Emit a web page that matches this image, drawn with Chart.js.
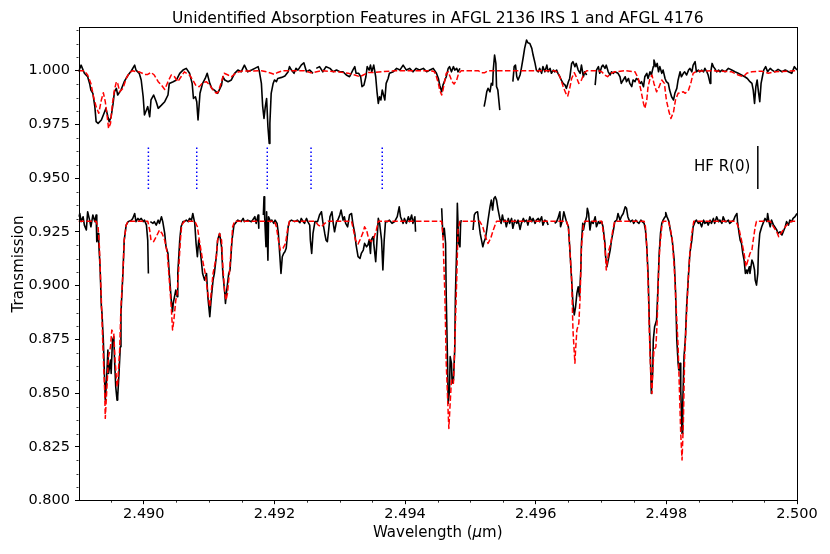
<!DOCTYPE html>
<html>
<head>
<meta charset="utf-8">
<title>Unidentified Absorption Features</title>
<script src="https://cdn.jsdelivr.net/npm/chart.js@4.4.1/dist/chart.umd.min.js"></script>
<style>
  html, body { margin: 0; padding: 0; background: #fff; }
  canvas { display: block; }
</style>
</head>
<body>
<canvas id="spec" width="830" height="554"></canvas>
<script>
/* ---- data (wavelength in um, transmission) ---- */

// AFGL 2136 IRS 1, observed (upper)
const upperObsWave = [
  2.48900,2.48904,2.48909,2.48914,2.48917,2.48919,2.48922,2.48925,2.48927,2.48930,
  2.48935,2.48940,2.48942,2.48945,2.48947,2.48950,2.48953,2.48955,2.48958,2.48960,
  2.48965,2.48970,2.48976,2.48981,2.48986,2.48988,2.48993,2.48996,2.48999,2.49001,
  2.49004,2.49006,2.49009,2.49011,2.49015,2.49019,2.49022,2.49027,2.49032,2.49037,
  2.49039,2.49045,2.49050,2.49055,2.49060,2.49065,2.49070,2.49074,2.49076,2.49079,
  2.49081,2.49083,2.49086,2.49090,2.49094,2.49097,2.49101,2.49104,2.49108,2.49113,
  2.49119,2.49121,2.49124,2.49129,2.49134,2.49139,2.49144,2.49149,2.49154,2.49159,
  2.49165,2.49170,2.49175,2.49177,2.49180,2.49182,2.49184,2.49186,2.49188,2.49190,
  2.49192,2.49193,2.49195,2.49198,2.49200,2.49203,2.49205,2.49211,2.49216,2.49221,
  2.49223,2.49226,2.49230,2.49233,2.49236,2.49241,2.49245,2.49249,2.49254,2.49259,
  2.49261,2.49264,2.49269,2.49274,2.49279,2.49285,2.49290,2.49295,2.49300,2.49305,
  2.49310,2.49315,2.49320,2.49323,2.49325,2.49329,2.49332,2.49334,2.49337,2.49340,
  2.49342,2.49345,2.49347,2.49349,2.49352,2.49355,2.49357,2.49359,2.49361,2.49363,
  2.49365,2.49367,2.49369,2.49371,2.49374,2.49376,2.49382,2.49387,2.49392,2.49397,
  2.49402,2.49407,2.49412,2.49417,2.49422,2.49428,2.49433,2.49438,2.49443,2.49448,
  2.49451,2.49453,2.49456,2.49458,2.49461,2.49463,2.49466,2.49468,2.49471,2.49474,
  2.49476,2.49479,2.49481,2.49484,2.49500,2.49521,2.49523,2.49525,2.49527,2.49530,
  2.49532,2.49534,2.49535,2.49537,2.49539,2.49540,2.49542,2.49545,2.49555,2.49565,
  2.49567,2.49569,2.49571,2.49573,2.49576,2.49578,2.49581,2.49583,2.49586,2.49588,
  2.49591,2.49594,2.49596,2.49599,2.49601,2.49604,2.49606,2.49609,2.49611,2.49614,
  2.49617,2.49619,2.49622,2.49624,2.49627,2.49629,2.49632,2.49634,2.49637,2.49639,
  2.49642,2.49645,2.49647,2.49650,2.49652,2.49655,2.49657,2.49660,2.49662,2.49665,
  2.49668,2.49670,2.49673,2.49675,2.49678,2.49685,2.49691,2.49693,2.49696,2.49698,
  2.49701,2.49703,2.49706,2.49708,2.49711,2.49714,2.49716,2.49719,2.49721,2.49726,
  2.49729,2.49731,2.49734,2.49737,2.49739,2.49742,2.49744,2.49747,2.49749,2.49752,
  2.49754,2.49757,2.49760,2.49762,2.49765,2.49767,2.49770,2.49772,2.49775,2.49777,
  2.49780,2.49781,2.49784,2.49786,2.49788,2.49790,2.49793,2.49795,2.49798,2.49800,
  2.49803,2.49805,2.49808,2.49811,2.49813,2.49816,2.49818,2.49821,2.49823,2.49826,
  2.49828,2.49831,2.49834,2.49836,2.49839,2.49841,2.49844,2.49846,2.49849,2.49851,
  2.49854,2.49857,2.49859,2.49862,2.49864,2.49867,2.49868,2.49870,2.49872,2.49874,
  2.49877,2.49880,2.49882,2.49885,2.49890,2.49895,2.49900,2.49905,2.49910,2.49915,
  2.49920,2.49924,2.49928,2.49931,2.49933,2.49935,2.49937,2.49939,2.49941,2.49943,
  2.49945,2.49947,2.49949,2.49952,2.49955,2.49959,2.49962,2.49966,2.49971,2.49977,
  2.49982,2.49987,2.49992,2.49996,2.50000
];
const upperObsTrans = [
  0.9995,1.0026,0.9988,0.9972,0.9941,0.9910,0.9895,0.9833,0.9763,0.9755,
  0.9771,0.9809,0.9825,0.9786,0.9763,0.9786,0.9848,0.9902,0.9918,0.9887,
  0.9910,0.9949,0.9980,1.0000,1.0026,1.0003,0.9988,0.9957,0.9879,0.9794,
  0.9817,0.9833,0.9786,0.9864,0.9887,0.9856,0.9825,0.9840,0.9856,0.9887,
  0.9941,0.9949,0.9957,0.9988,1.0003,1.0011,0.9988,0.9941,0.9871,0.9879,
  0.9856,0.9771,0.9895,0.9941,0.9964,0.9988,0.9941,0.9918,0.9910,0.9895,
  0.9933,0.9972,0.9957,0.9949,0.9957,0.9988,1.0003,0.9995,1.0026,0.9995,
  1.0003,1.0011,1.0019,0.9995,0.9941,0.9833,0.9778,0.9833,0.9871,0.9740,
  0.9662,0.9755,0.9895,0.9941,0.9957,0.9949,0.9964,0.9969,0.9975,0.9995,
  1.0019,1.0003,0.9988,1.0011,1.0003,1.0026,1.0037,0.9995,1.0003,0.9988,
  null,  1.0011,1.0019,0.9995,1.0019,1.0011,0.9995,1.0003,0.9995,0.9995,
  0.9980,0.9972,1.0003,1.0019,0.9988,0.9988,0.9972,0.9926,0.9933,0.9972,
  1.0019,1.0003,1.0026,0.9995,1.0026,0.9972,0.9902,0.9848,0.9879,0.9864,
  0.9910,0.9887,0.9864,0.9941,0.9964,0.9988,0.9995,1.0011,1.0003,1.0026,
  1.0003,1.0011,0.9995,1.0011,1.0003,1.0011,0.9995,1.0003,1.0011,0.9988,
  0.9964,0.9933,0.9902,0.9933,0.9957,0.9972,1.0011,1.0019,0.9995,1.0019,
  1.0003,1.0011,0.9995,1.0011,null,  0.9833,0.9864,0.9902,0.9918,0.9902,
  0.9941,0.9933,1.0003,1.0073,1.0034,0.9926,0.9910,0.9817,null,  0.9949,
  1.0019,1.0026,0.9972,0.9957,0.9980,1.0011,1.0065,1.0104,1.0143,1.0130,
  1.0127,1.0104,1.0073,1.0034,1.0003,0.9995,1.0011,0.9988,1.0019,0.9995,
  1.0026,0.9995,1.0011,0.9988,1.0003,0.9995,1.0003,0.9988,0.9972,0.9957,
  0.9941,0.9933,0.9918,0.9949,0.9964,1.0034,1.0042,1.0019,1.0034,1.0003,
  0.9988,1.0026,0.9972,0.9995,0.9980,null,  0.9933,1.0003,1.0019,0.9988,
  1.0019,1.0026,1.0011,1.0026,0.9995,0.9980,0.9995,0.9988,0.9995,0.9988,
  0.9972,0.9941,0.9957,0.9972,0.9949,0.9964,0.9941,0.9926,0.9957,0.9949,
  0.9964,0.9957,0.9941,0.9949,0.9926,0.9972,0.9988,0.9964,0.9995,0.9980,
  1.0019,1.0050,1.0019,1.0034,0.9995,1.0019,0.9988,1.0003,0.9964,0.9949,
  0.9941,0.9910,0.9879,0.9864,0.9895,0.9918,0.9957,0.9995,0.9972,0.9988,
  0.9995,0.9980,1.0003,1.0011,0.9995,1.0026,1.0042,0.9995,1.0003,0.9995,
  1.0003,0.9995,1.0011,0.9995,0.9980,0.9941,0.9995,1.0034,1.0019,1.0011,
  0.9995,1.0003,0.9995,1.0003,0.9995,1.0011,1.0003,0.9995,0.9988,0.9980,
  0.9972,0.9964,0.9949,0.9941,0.9910,0.9848,0.9926,0.9957,0.9902,0.9856,
  0.9941,0.9972,1.0003,1.0019,0.9995,1.0011,1.0003,0.9995,1.0006,0.9995,
  1.0003,0.9995,0.9988,1.0019,1.0003
];

// upper model (telluric fit)
const upperModelWave = [
  2.48900,2.48909,2.48914,2.48919,2.48923,2.48927,2.48931,2.48935,2.48938,2.48941,
  2.48944,2.48946,2.48949,2.48952,2.48955,2.48958,2.48960,2.48963,2.48968,2.48973,
  2.48978,2.48983,2.48988,2.48993,2.49001,2.49006,2.49011,2.49016,2.49022,2.49027,
  2.49032,2.49037,2.49042,2.49047,2.49052,2.49057,2.49062,2.49070,2.49075,2.49080,
  2.49085,2.49090,2.49096,2.49101,2.49106,2.49111,2.49114,2.49119,2.49123,2.49129,
  2.49134,2.49142,2.49149,2.49180,2.49188,2.49195,2.49200,2.49205,2.49213,2.49246,
  2.49256,2.49272,2.49297,2.49313,2.49323,2.49331,2.49336,2.49344,2.49354,2.49364,
  2.49384,2.49440,2.49445,2.49448,2.49451,2.49453,2.49456,2.49458,2.49461,2.49463,
  2.49466,2.49468,2.49472,2.49475,2.49479,2.49482,2.49486,2.49512,2.49517,2.49522,
  2.49527,2.49629,2.49634,2.49638,2.49642,2.49646,2.49649,2.49652,2.49655,2.49659,
  2.49662,2.49666,2.49670,2.49674,2.49678,2.49696,2.49701,2.49706,2.49710,2.49715,
  2.49721,2.49737,2.49752,2.49757,2.49761,2.49765,2.49767,2.49770,2.49772,2.49775,
  2.49778,2.49781,2.49785,2.49789,2.49793,2.49797,2.49800,2.49804,2.49807,2.49811,
  2.49814,2.49818,2.49822,2.49826,2.49829,2.49834,2.49838,2.49841,2.49846,2.49869,
  2.49900,2.49910,2.49918,2.49923,2.49931,2.49946,2.49956,2.49966,2.50000
];
const upperModelTrans = [
  1.0000,1.0000,0.9980,0.9941,0.9879,0.9833,0.9802,0.9864,0.9898,0.9856,
  0.9786,0.9732,0.9755,0.9848,0.9910,0.9949,0.9941,0.9902,0.9918,0.9964,
  0.9991,1.0000,0.9995,0.9995,0.9983,0.9983,0.9992,0.9980,0.9949,0.9933,
  0.9913,0.9949,0.9980,0.9972,0.9949,0.9972,0.9995,0.9980,0.9957,0.9929,
  0.9926,0.9944,0.9949,0.9933,0.9910,0.9895,0.9902,0.9949,0.9988,0.9980,
  0.9972,0.9992,0.9998,1.0000,0.9995,0.9988,0.9983,0.9992,1.0000,1.0000,
  0.9990,1.0000,0.9995,0.9988,0.9980,0.9972,0.9980,0.9992,0.9992,0.9995,
  1.0000,1.0000,0.9995,0.9972,0.9941,0.9910,0.9887,0.9910,0.9957,0.9988,
  0.9995,0.9980,0.9949,0.9938,0.9957,0.9988,1.0000,1.0000,0.9991,0.9991,
  1.0000,1.0000,0.9991,0.9964,0.9926,0.9895,0.9882,0.9918,0.9964,0.9991,
  0.9972,0.9941,0.9957,0.9988,1.0000,1.0000,0.9995,0.9980,0.9972,0.9988,
  0.9995,1.0000,0.9995,0.9964,0.9910,0.9848,0.9825,0.9864,0.9926,0.9964,
  0.9980,0.9941,0.9902,0.9926,0.9957,0.9941,0.9864,0.9809,0.9778,0.9809,
  0.9864,0.9895,0.9898,0.9902,0.9895,0.9910,0.9949,0.9988,0.9998,1.0000,
  0.9995,0.9980,0.9972,0.9988,0.9995,0.9998,0.9988,0.9995,1.0000
];

// AFGL 4176, observed (lower, offset)
const lowerObsWave = [
  2.48900,2.48902,2.48904,2.48907,2.48909,2.48912,2.48914,2.48917,2.48919,2.48922,
  2.48925,2.48927,2.48928,2.48930,2.48931,2.48933,2.48935,2.48936,2.48938,2.48940,
  2.48941,2.48943,2.48945,2.48946,2.48949,2.48950,2.48952,2.48954,2.48955,2.48957,
  2.48959,2.48960,2.48962,2.48964,2.48965,2.48968,2.48970,2.48973,2.48976,2.48981,
  2.48983,2.48986,2.48988,2.48991,2.48993,2.48996,2.48999,2.49001,2.49004,2.49006,
  2.49007,2.49008,2.49010,2.49014,2.49016,2.49019,2.49022,2.49024,2.49027,2.49029,
  2.49032,2.49034,2.49037,2.49039,2.49042,2.49044,2.49045,2.49047,2.49049,2.49051,
  2.49052,2.49055,2.49057,2.49060,2.49062,2.49065,2.49068,2.49070,2.49073,2.49075,
  2.49078,2.49080,2.49082,2.49084,2.49086,2.49088,2.49090,2.49093,2.49096,2.49098,
  2.49101,2.49103,2.49106,2.49108,2.49111,2.49113,2.49116,2.49119,2.49121,2.49124,
  2.49125,2.49127,2.49130,2.49132,2.49135,2.49138,2.49142,2.49144,2.49149,2.49152,
  2.49154,2.49159,2.49165,2.49170,2.49172,2.49175,2.49176,2.49178,2.49183,2.49184,
  2.49185,2.49187,2.49188,2.49190,2.49191,2.49194,2.49196,2.49199,2.49201,2.49204,
  2.49206,2.49208,2.49210,2.49212,2.49214,2.49216,2.49218,2.49221,2.49223,2.49226,
  2.49231,2.49235,2.49239,2.49241,2.49244,2.49246,2.49249,2.49251,2.49254,2.49255,
  2.49257,2.49259,2.49262,2.49266,2.49269,2.49272,2.49274,2.49277,2.49279,2.49281,
  2.49283,2.49285,2.49288,2.49290,2.49292,2.49295,2.49297,2.49300,2.49302,2.49305,
  2.49307,2.49309,2.49312,2.49315,2.49318,2.49320,2.49323,2.49325,2.49328,2.49331,
  2.49333,2.49336,2.49338,2.49341,2.49343,2.49345,2.49347,2.49348,2.49351,2.49352,
  2.49355,2.49357,2.49359,2.49361,2.49364,2.49366,2.49368,2.49370,2.49373,2.49376,
  2.49380,2.49384,2.49388,2.49391,2.49393,2.49397,2.49399,2.49402,2.49405,2.49407,
  2.49410,2.49412,2.49415,2.49416,2.49425,2.49456,2.49458,2.49460,2.49462,2.49463,
  2.49465,2.49466,2.49468,2.49469,2.49471,2.49472,2.49474,2.49476,2.49477,2.49479,
  2.49480,2.49482,2.49484,2.49485,2.49486,2.49495,2.49504,2.49506,2.49508,2.49511,
  2.49513,2.49515,2.49517,2.49519,2.49521,2.49523,2.49525,2.49527,2.49530,2.49532,
  2.49534,2.49536,2.49538,2.49540,2.49542,2.49545,2.49547,2.49549,2.49551,2.49553,
  2.49555,2.49558,2.49560,2.49563,2.49565,2.49568,2.49571,2.49573,2.49576,2.49578,
  2.49581,2.49583,2.49586,2.49588,2.49591,2.49594,2.49596,2.49599,2.49601,2.49604,
  2.49606,2.49609,2.49611,2.49614,2.49617,2.49619,2.49625,2.49629,2.49632,2.49634,
  2.49637,2.49638,2.49641,2.49643,2.49645,2.49647,2.49650,2.49652,2.49655,2.49657,
  2.49659,2.49661,2.49663,2.49665,2.49667,2.49669,2.49670,2.49672,2.49673,2.49675,
  2.49678,2.49679,2.49681,2.49683,2.49685,2.49688,2.49691,2.49693,2.49696,2.49698,
  2.49701,2.49703,2.49706,2.49707,2.49709,2.49711,2.49714,2.49716,2.49719,2.49721,
  2.49724,2.49726,2.49729,2.49731,2.49734,2.49737,2.49739,2.49741,2.49743,2.49745,
  2.49748,2.49750,2.49753,2.49755,2.49758,2.49761,2.49763,2.49766,2.49768,2.49770,
  2.49772,2.49774,2.49776,2.49777,2.49779,2.49780,2.49782,2.49785,2.49787,2.49789,
  2.49791,2.49793,2.49795,2.49798,2.49799,2.49801,2.49804,2.49806,2.49809,2.49812,
  2.49814,2.49816,2.49818,2.49819,2.49821,2.49822,2.49824,2.49825,2.49827,2.49829,
  2.49831,2.49834,2.49836,2.49839,2.49841,2.49844,2.49846,2.49849,2.49851,2.49854,
  2.49857,2.49859,2.49862,2.49864,2.49867,2.49869,2.49872,2.49874,2.49877,2.49880,
  2.49882,2.49885,2.49887,2.49890,2.49892,2.49895,2.49897,2.49900,2.49903,2.49905,
  2.49908,2.49909,2.49911,2.49913,2.49915,2.49917,2.49919,2.49921,2.49923,2.49924,
  2.49927,2.49928,2.49931,2.49933,2.49935,2.49936,2.49938,2.49940,2.49941,2.49943,
  2.49946,2.49948,2.49951,2.49954,2.49955,2.49957,2.49959,2.49961,2.49964,2.49966,
  2.49969,2.49971,2.49974,2.49977,2.49979,2.49982,2.49984,2.49987,2.49989,2.49992,
  2.49994,2.49997,2.50000
];
const lowerObsTrans = [
  0.9321,0.9336,0.9298,0.9321,0.9282,0.9259,0.9344,0.9305,0.9274,0.9329,
  0.9298,0.9329,0.9205,0.9243,0.9197,0.9088,0.8902,0.8871,0.8747,0.8561,
  0.8468,0.8561,0.8701,0.8592,0.8654,0.8592,0.8747,0.8763,0.8670,0.8530,
  0.8468,0.8484,0.8592,0.8716,0.8871,0.9057,0.9212,0.9282,0.9298,0.9305,
  0.9313,0.9336,0.9298,0.9313,0.9305,0.9313,0.9298,0.9305,0.9282,0.9212,
  0.9057,null,  0.9298,0.9290,0.9298,0.9282,0.9305,0.9290,0.9321,0.9298,
  0.9243,0.9181,0.9150,0.9057,0.8933,0.8879,0.8918,0.8949,0.8980,0.8949,
  0.9057,0.9212,0.9274,0.9298,0.9298,0.9305,0.9298,0.9313,0.9305,0.9336,
  0.9290,0.9197,0.9135,0.9212,0.9174,0.9119,0.9057,0.9026,0.9057,0.8949,
  0.8856,0.8933,0.9026,0.9057,0.9135,0.9212,0.9243,0.9181,0.9057,0.8964,
  0.8918,0.8980,0.9057,0.9073,0.9212,0.9282,0.9298,0.9305,0.9298,0.9313,
  0.9298,0.9305,0.9298,0.9321,0.9290,0.9329,0.9267,null,  0.9329,0.9414,
  0.9321,0.9181,0.9344,0.9119,0.9321,0.9298,0.9305,0.9290,0.9305,0.9290,
  0.9243,0.9150,0.9057,0.9135,0.9150,0.9158,0.9174,0.9274,0.9298,0.9305,
  0.9298,0.9305,0.9293,0.9313,0.9298,0.9290,0.9313,0.9298,0.9282,0.9212,
  0.9150,0.9243,0.9298,0.9298,0.9329,0.9344,0.9298,0.9243,0.9212,0.9205,
  0.9259,0.9321,0.9344,0.9290,0.9251,0.9298,0.9305,0.9329,0.9352,0.9305,
  0.9321,0.9290,0.9274,0.9329,0.9336,0.9290,0.9243,0.9189,0.9135,0.9127,
  0.9150,0.9166,0.9197,0.9181,0.9189,0.9212,0.9150,0.9212,0.9228,0.9197,
  0.9112,0.9212,0.9313,0.9290,0.9212,0.9073,0.9212,0.9298,0.9298,0.9305,
  0.9290,0.9298,0.9321,0.9367,0.9321,0.9290,0.9313,0.9290,0.9321,0.9298,
  0.9329,0.9290,0.9321,0.9251,null,  0.9360,0.9228,0.9267,0.9197,0.8949,
  0.8639,0.8453,0.8515,0.8670,0.8639,0.8546,0.8561,0.8701,0.8949,0.9181,
  0.9383,0.9197,0.9181,0.9290,0.9305,null,  0.9259,0.9329,0.9340,0.9344,
  0.9290,0.9243,0.9212,0.9181,0.9205,0.9220,0.9259,0.9305,0.9367,0.9398,
  0.9352,0.9406,0.9414,0.9398,0.9360,0.9313,0.9290,0.9329,0.9298,0.9305,
  0.9274,0.9313,0.9290,0.9313,0.9267,0.9305,0.9290,0.9305,0.9262,0.9290,
  0.9313,0.9298,0.9305,0.9282,0.9321,0.9298,0.9313,0.9290,0.9305,0.9313,
  0.9298,0.9321,0.9282,0.9305,0.9298,0.9282,null,  0.9290,0.9298,0.9313,
  0.9344,0.9274,0.9305,0.9344,0.9321,0.9298,0.9274,0.9181,0.9026,0.8918,
  0.8864,0.8902,0.8964,0.8995,0.8949,0.9073,0.9197,0.9290,0.9259,0.9290,
  0.9321,0.9360,0.9336,0.9259,0.9298,0.9290,0.9321,0.9274,0.9298,0.9290,
  0.9298,0.9274,0.9197,0.9135,0.9088,0.9119,0.9166,0.9212,0.9259,0.9298,
  0.9305,0.9336,0.9305,0.9321,0.9336,0.9367,0.9360,0.9321,0.9305,0.9298,
  0.9305,0.9290,0.9305,0.9298,0.9290,0.9305,0.9298,0.9290,0.9259,0.9181,
  0.9057,0.8825,0.8623,0.8499,0.8592,0.8747,0.8809,0.8840,0.8980,0.9150,
  0.9243,0.9290,0.9305,0.9321,0.9340,0.9321,0.9298,0.9259,0.9212,0.9119,
  0.8980,0.8747,0.8639,0.8608,0.8639,0.8515,0.8313,0.8437,0.8670,0.8747,
  0.8902,0.9057,0.9150,0.9212,0.9274,0.9298,0.9305,0.9290,0.9298,0.9274,
  0.9305,0.9290,0.9298,0.9282,0.9305,0.9290,0.9313,0.9290,0.9321,0.9298,
  0.9305,0.9290,0.9321,0.9298,0.9298,0.9305,0.9290,0.9298,0.9305,0.9321,
  0.9336,0.9298,0.9251,0.9212,0.9197,0.9150,0.9119,0.9057,0.9073,0.9057,
  0.9088,0.9057,0.9119,0.9104,0.9073,0.9026,0.9003,0.9057,0.9166,0.9243,
  0.9274,0.9290,0.9313,0.9298,0.9336,0.9298,0.9274,0.9305,0.9282,0.9274,
  0.9259,0.9243,0.9251,0.9236,0.9251,0.9274,0.9298,0.9282,0.9305,0.9298,
  0.9313,0.9321,0.9336
];

// lower model
const lowerModelWave = [
  2.48900,2.48927,2.48930,2.48932,2.48935,2.48937,2.48940,2.48941,2.48943,2.48946,
  2.48949,2.48951,2.48954,2.48956,2.48959,2.48960,2.48963,2.48965,2.48968,2.48970,
  2.48973,2.48976,2.49006,2.49009,2.49011,2.49015,2.49019,2.49024,2.49028,2.49032,
  2.49036,2.49039,2.49042,2.49044,2.49046,2.49049,2.49051,2.49053,2.49056,2.49058,
  2.49062,2.49078,2.49082,2.49085,2.49090,2.49094,2.49098,2.49101,2.49103,2.49106,
  2.49108,2.49111,2.49113,2.49116,2.49119,2.49121,2.49124,2.49126,2.49128,2.49131,
  2.49134,2.49136,2.49139,2.49200,2.49203,2.49206,2.49209,2.49213,2.49217,2.49220,
  2.49223,2.49262,2.49267,2.49272,2.49277,2.49282,2.49318,2.49321,2.49324,2.49328,
  2.49332,2.49336,2.49338,2.49341,2.49344,2.49348,2.49352,2.49356,2.49359,2.49456,
  2.49458,2.49461,2.49463,2.49466,2.49467,2.49469,2.49471,2.49474,2.49476,2.49479,
  2.49481,2.49484,2.49514,2.49519,2.49523,2.49527,2.49531,2.49535,2.49540,2.49647,
  2.49650,2.49652,2.49655,2.49657,2.49660,2.49661,2.49663,2.49666,2.49668,2.49670,
  2.49673,2.49675,2.49701,2.49703,2.49706,2.49708,2.49710,2.49712,2.49715,2.49718,
  2.49721,2.49766,2.49768,2.49770,2.49772,2.49774,2.49776,2.49778,2.49779,2.49781,
  2.49784,2.49786,2.49788,2.49790,2.49793,2.49795,2.49803,2.49806,2.49809,2.49812,
  2.49815,2.49818,2.49820,2.49822,2.49824,2.49826,2.49828,2.49831,2.49834,2.49836,
  2.49839,2.49842,2.49905,2.49908,2.49911,2.49915,2.49919,2.49922,2.49925,2.49928,
  2.49931,2.49933,2.49936,2.49938,2.49959,2.49964,2.49969,2.49972,2.49977,2.49982,
  2.49987,2.49992,2.50000
];
const lowerModelTrans = [
  0.9300,0.9300,0.9274,0.9181,0.8933,0.8747,0.8515,0.8383,0.8499,0.8670,
  0.8716,0.8794,0.8778,0.8654,0.8530,0.8546,0.8701,0.8902,0.9057,0.9212,
  0.9282,0.9300,0.9300,0.9259,0.9212,0.9205,0.9228,0.9259,0.9243,0.9212,
  0.9150,0.9026,0.8902,0.8794,0.8840,0.8933,0.8964,0.9057,0.9212,0.9282,
  0.9300,0.9300,0.9274,0.9212,0.9119,0.9057,0.8964,0.8902,0.8964,0.9057,
  0.9088,0.9135,0.9212,0.9243,0.9212,0.9088,0.8964,0.8933,0.8964,0.9057,
  0.9181,0.9274,0.9300,0.9300,0.9274,0.9212,0.9166,0.9174,0.9197,0.9259,
  0.9300,0.9300,0.9282,0.9274,0.9290,0.9300,0.9300,0.9259,0.9212,0.9194,
  0.9220,0.9251,0.9274,0.9259,0.9220,0.9205,0.9220,0.9259,0.9300,0.9300,
  0.9228,0.8949,0.8639,0.8406,0.8336,0.8453,0.8561,0.8546,0.8716,0.9026,
  0.9259,0.9300,0.9300,0.9274,0.9228,0.9197,0.9220,0.9259,0.9300,0.9300,
  0.9274,0.9181,0.9026,0.8794,0.8639,0.8701,0.8794,0.8825,0.8949,0.9181,
  0.9282,0.9300,0.9300,0.9259,0.9181,0.9073,0.9119,0.9166,0.9197,0.9259,
  0.9300,0.9300,0.9274,0.9181,0.9026,0.8778,0.8592,0.8499,0.8592,0.8701,
  0.8716,0.8840,0.9057,0.9181,0.9274,0.9300,0.9300,0.9267,0.9212,0.9088,
  0.8902,0.8716,0.8515,0.8313,0.8189,0.8360,0.8670,0.8871,0.9057,0.9150,
  0.9243,0.9300,0.9300,0.9290,0.9267,0.9212,0.9150,0.9088,0.9119,0.9150,
  0.9166,0.9212,0.9274,0.9300,0.9300,0.9274,0.9251,0.9228,0.9251,0.9274,
  0.9290,0.9300,0.9300
];

// unidentified feature markers and the HF R(0) line
const featureWaves = [2.49007, 2.49081, 2.49189, 2.49256, 2.49365];
const markerSpan   = [0.945, 0.965];
const hfWave       = 2.49940;
const hfLabel      = 'HF R(0)';

const xTicks = [2.490, 2.492, 2.494, 2.496, 2.498, 2.500];
const yTicks = [0.800, 0.825, 0.850, 0.875, 0.900, 0.925, 0.950, 0.975, 1.000];

const TITLE  = 'Unidentified Absorption Features in AFGL 2136 IRS 1 and AFGL 4176';
const XLABEL = ['Wavelength (', '\u03bc', 'm)'];   // middle part is set in italics
const YLABEL = 'Transmission';

/* ---- helpers ---- */
const FONT = '"DejaVu Sans", "Noto Sans", sans-serif';

function toPoints(xs, ys){
  return xs.map((x, i) => ({ x: x, y: ys[i] }));
}
function verticalSegments(xs, lo, hi){
  const pts = [];
  xs.forEach(x => { pts.push({x:x, y:lo}, {x:x, y:hi}, {x:x, y:null}); });
  return pts;
}

/* minor ticks, frame, title and labels */
const decorations = {
  id: 'decorations',
  afterDraw(chart){
    const {ctx, chartArea:a, scales:{x, y}} = chart;
    ctx.save();

    // minor ticks (0.0005 on x, 0.00625 on y)
    ctx.strokeStyle = '#000';
    ctx.lineWidth = 0.8;
    ctx.beginPath();
    for (let i = 1; i < 22; i++){
      if (i % 4 === 2) continue;
      const px = Math.round(x.getPixelForValue(2.489 + i*0.0005)) + 0.5;
      ctx.moveTo(px, a.bottom); ctx.lineTo(px, a.bottom + 2);
    }
    for (let i = 1; i < 36; i++){
      if (i % 4 === 0) continue;
      const v = 0.8 + i*0.00625;
      if (v > y.max) break;
      const py = Math.round(y.getPixelForValue(v)) + 0.5;
      ctx.moveTo(a.left, py); ctx.lineTo(a.left - 2, py);
    }
    ctx.stroke();

    // frame
    ctx.lineWidth = 1;
    ctx.strokeRect(Math.round(a.left) + 0.5, Math.round(a.top) + 0.5,
                   Math.round(a.right - a.left) - 1, Math.round(a.bottom - a.top));

    // title
    ctx.fillStyle = '#000';
    ctx.textAlign = 'center';
    ctx.textBaseline = 'alphabetic';
    ctx.font = '15.5px ' + FONT;
    ctx.fillText(TITLE, (a.left + a.right)/2, 22.5);

    // x label with italic mu
    const fNormal = '15px ' + FONT, fItalic = 'italic 15px ' + FONT;
    ctx.font = fNormal; const w0 = ctx.measureText(XLABEL[0]).width, w2 = ctx.measureText(XLABEL[2]).width;
    ctx.font = fItalic; const w1 = ctx.measureText(XLABEL[1]).width;
    let cx = (a.left + a.right)/2 - (w0 + w1 + w2)/2;
    ctx.textAlign = 'left';
    ctx.font = fNormal; ctx.fillText(XLABEL[0], cx, 537); cx += w0;
    ctx.font = fItalic; ctx.fillText(XLABEL[1], cx, 537); cx += w1;
    ctx.font = fNormal; ctx.fillText(XLABEL[2], cx, 537);

    // y label
    ctx.textAlign = 'center';
    ctx.save();
    ctx.translate(23, (a.top + a.bottom)/2);
    ctx.rotate(-Math.PI/2);
    ctx.fillText(YLABEL, 0, 0);
    ctx.restore();

    // HF R(0) annotation
    ctx.textAlign = 'right';
    ctx.textBaseline = 'middle';
    ctx.fillText(hfLabel, x.getPixelForValue(hfWave) - 7.5,
                 y.getPixelForValue((markerSpan[0] + markerSpan[1])/2));
    ctx.restore();
  }
};

const tickFont = { family: FONT, size: 14.5 };

new Chart(document.getElementById('spec'), {
  type: 'line',
  data: {
    datasets: [
      { label:'AFGL 2136 model', data: toPoints(upperModelWave, upperModelTrans),
        borderColor:'#ff0000', borderWidth:1.5, borderDash:[5.5,2.4] },
      { label:'AFGL 4176 model', data: toPoints(lowerModelWave, lowerModelTrans),
        borderColor:'#ff0000', borderWidth:1.5, borderDash:[5.5,2.4] },
      { label:'AFGL 2136 IRS 1', data: toPoints(upperObsWave, upperObsTrans),
        borderColor:'#000000', borderWidth:1.6 },
      { label:'AFGL 4176', data: toPoints(lowerObsWave, lowerObsTrans),
        borderColor:'#000000', borderWidth:1.6 },
      { label:'features', data: verticalSegments(featureWaves, markerSpan[0], markerSpan[1]),
        borderColor:'#0000ff', borderWidth:1.5, borderDash:[1.5,2.5] },
      { label:'HF R(0)', data: verticalSegments([hfWave], markerSpan[0], markerSpan[1]),
        borderColor:'#000000', borderWidth:1.5 }
    ]
  },
  options: {
    responsive: false,
    animation: false,
    events: [],
    layout: { padding: { top: 27.3, right: 33, bottom: 0, left: 0 } },
    elements: {
      point: { radius: 0, hoverRadius: 0 },
      line:  { tension: 0, fill: false, borderJoinStyle: 'round', borderCapStyle: 'butt' }
    },
    datasets: { line: { spanGaps: false } },
    plugins: { legend: { display:false }, tooltip: { enabled:false }, title: { display:false } },
    scales: {
      x: {
        type: 'linear', min: 2.489, max: 2.500,
        afterBuildTicks: s => { s.ticks = xTicks.map(v => ({ value: v })); },
        afterFit: s => { s.height = 53.3; },
        ticks: { font: tickFont, color:'#000', padding: 1, maxRotation: 0, autoSkip: false,
                 callback: v => Number(v).toFixed(3) },
        grid: { drawOnChartArea: false, tickLength: 3.5, color:'#000', tickWidth: 1 },
        border: { display: false }
      },
      y: {
        type: 'linear', min: 0.800, max: 1.0202,
        afterBuildTicks: s => { s.ticks = yTicks.map(v => ({ value: v })); },
        afterFit: s => { s.width = 78.5; },
        ticks: { font: tickFont, color:'#000', padding: 5, autoSkip: false,
                 callback: v => Number(v).toFixed(3) },
        grid: { drawOnChartArea: false, tickLength: 3.5, color:'#000', tickWidth: 1 },
        border: { display: false }
      }
    }
  },
  plugins: [decorations]
});
</script>
</body>
</html>
